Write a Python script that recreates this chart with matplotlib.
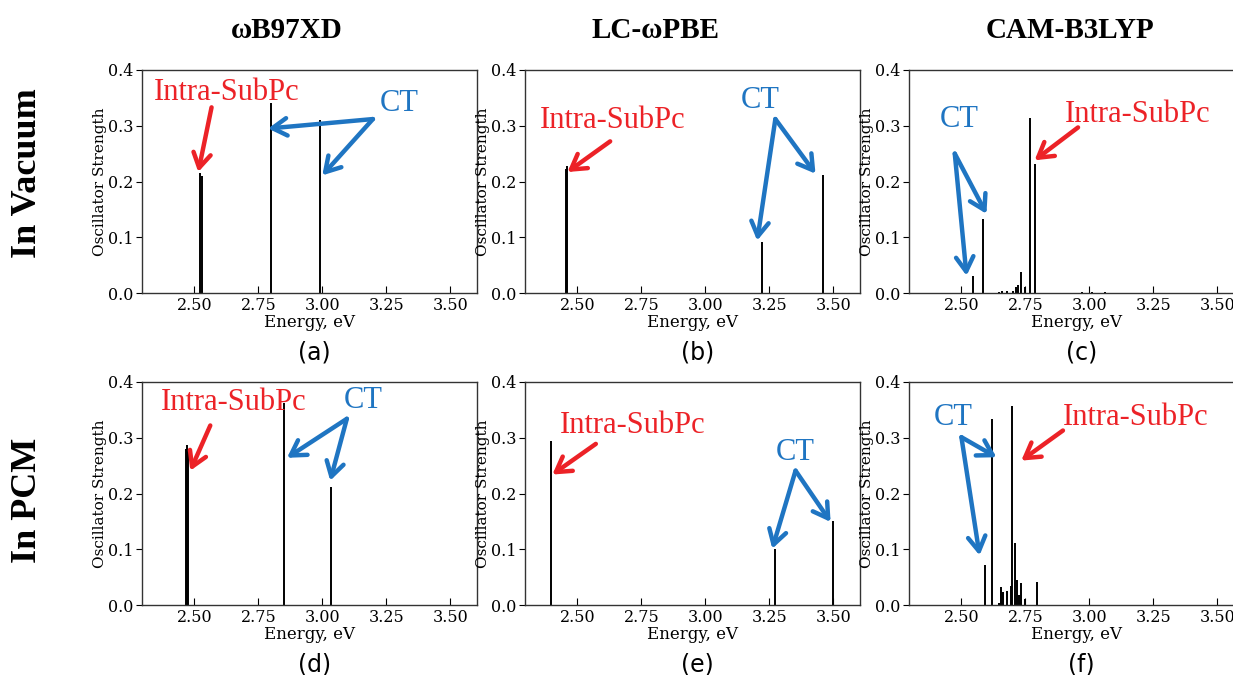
import matplotlib
matplotlib.use("Agg")
import matplotlib.pyplot as plt

# functionals (columns) and solvent models (rows)
functionals = ["ωB97XD", "LC-ωPBE", "CAM-B3LYP"]
environments = ["In Vacuum", "In PCM"]
panel_tags = ["(a)", "(b)", "(c)", "(d)", "(e)", "(f)"]

# excitation energies (eV) and oscillator strengths
a_energy = [2.521, 2.529, 2.800, 2.993]
a_strength = [0.215, 0.210, 0.341, 0.310]

b_energy = [2.456, 2.460, 3.221, 3.461]
b_strength = [0.222, 0.227, 0.091, 0.212]

c_energy = [2.546, 2.585, 2.647, 2.660, 2.680, 2.700, 2.715, 2.721, 2.732,
            2.748, 2.767, 2.786, 2.97, 3.01, 3.06]
c_strength = [0.031, 0.133, 0.002, 0.003, 0.004, 0.003, 0.010, 0.015, 0.037,
              0.010, 0.314, 0.231, 0.001, 0.001, 0.002]

d_energy = [2.466, 2.470, 2.474, 2.849, 3.036]
d_strength = [0.280, 0.287, 0.275, 0.362, 0.211]

e_energy = [2.398, 3.274, 3.500]
e_strength = [0.294, 0.100, 0.151]

f_energy = [2.594, 2.620, 2.647, 2.654, 2.663, 2.680, 2.693, 2.699, 2.708,
            2.718, 2.725, 2.732, 2.750, 2.797]
f_strength = [0.072, 0.334, 0.004, 0.033, 0.023, 0.025, 0.034, 0.357, 0.111,
              0.044, 0.018, 0.039, 0.011, 0.042]

spectra = [(a_energy, a_strength), (b_energy, b_strength), (c_energy, c_strength),
           (d_energy, d_strength), (e_energy, e_strength), (f_energy, f_strength)]

RED = "#ec2227"
BLUE = "#1f75c2"

# label placement per panel: (text, colour, centre, [(tail, tip), ...])
annotations = [
    [("Intra-SubPc", RED, (2.627, 0.360), [((2.567, 0.333), (2.515, 0.217))]),
     ("CT", BLUE, (3.30, 0.340), [((3.198, 0.312), (2.788, 0.295)),
                                  ((3.198, 0.312), (3.000, 0.211))])],
    [("Intra-SubPc", RED, (2.636, 0.309), [((2.628, 0.272), (2.461, 0.217))]),
     ("CT", BLUE, (3.216, 0.345), [((3.274, 0.312), (3.203, 0.094)),
                                   ((3.274, 0.312), (3.431, 0.214))])],
    [("CT", BLUE, (2.493, 0.312), [((2.474, 0.250), (2.520, 0.031)),
                                   ((2.474, 0.250), (2.598, 0.142))]),
     ("Intra-SubPc", RED, (3.19, 0.320), [((2.956, 0.297), (2.786, 0.238))])],
    [("Intra-SubPc", RED, (2.655, 0.364), [((2.562, 0.322), (2.484, 0.241))]),
     ("CT", BLUE, (3.161, 0.367), [((3.096, 0.334), (2.862, 0.264)),
                                   ((3.096, 0.334), (3.031, 0.223))])],
    [("Intra-SubPc", RED, (2.715, 0.322), [((2.572, 0.289), (2.402, 0.234))]),
     ("CT", BLUE, (3.353, 0.274), [((3.353, 0.241), (3.262, 0.101)),
                                   ((3.353, 0.241), (3.490, 0.149))])],
    [("CT", BLUE, (2.468, 0.337), [((2.500, 0.301), (2.571, 0.089)),
                                   ((2.500, 0.301), (2.637, 0.265))]),
     ("Intra-SubPc", RED, (3.18, 0.337), [((2.897, 0.313), (2.734, 0.259))])],
]

W, H = 1233, 675
fig = plt.figure(figsize=(W / 100, H / 100), dpi=100)

col_left = [142, 525, 909]
row_top = [70, 382]
ax_w, ax_h = 335, 223

for i, (energy, strength) in enumerate(spectra):
    r, c = divmod(i, 3)
    ax = fig.add_axes([col_left[c] / W, 1 - (row_top[r] + ax_h) / H, ax_w / W, ax_h / H])
    ax.vlines(energy, 0, strength, color="black", lw=1.4)
    ax.set_xlim(2.295, 3.605)
    ax.set_ylim(0, 0.4)
    ax.set_xticks([2.50, 2.75, 3.00, 3.25, 3.50])
    ax.set_yticks([0.0, 0.1, 0.2, 0.3, 0.4])
    ax.xaxis.set_major_formatter(matplotlib.ticker.FormatStrFormatter("%.2f"))
    ax.yaxis.set_major_formatter(matplotlib.ticker.FormatStrFormatter("%.1f"))
    ax.tick_params(axis="x", direction="in", length=5, pad=3, labelsize=11.5)
    ax.tick_params(axis="y", direction="out", length=4, pad=2, labelsize=11.5)
    for lab in ax.get_xticklabels() + ax.get_yticklabels():
        lab.set_family("DejaVu Serif")
    for sp in ax.spines.values():
        sp.set_color("#333333")
        sp.set_linewidth(1.0)
    ax.set_xlabel("Energy, eV", family="DejaVu Serif", fontsize=12, labelpad=0)
    ax.set_ylabel("Oscillator Strength", family="DejaVu Serif", fontsize=11, labelpad=1)

    for text, color, pos, arrows in annotations[i]:
        ax.text(pos[0], pos[1], text, color=color, family="Liberation Serif",
                fontsize=22, ha="center", va="center")
        for tail, tip in arrows:
            ax.annotate("", xy=tip, xytext=tail,
                        arrowprops=dict(arrowstyle="->, head_length=0.55, head_width=0.33",
                                        color=color, lw=3.2, mutation_scale=19,
                                        shrinkA=0, shrinkB=0))

    ax.text(0.515, -0.265, panel_tags[i], transform=ax.transAxes, ha="center",
            va="center", fontsize=17, family="DejaVu Sans")

# column titles and row labels
for c, name in enumerate(functionals):
    x = [287, 655, 1070][c]
    fig.text(x / W, 1 - 30 / H, name, ha="center", va="center",
             family="Liberation Serif", fontweight="bold", fontsize=21)

for r, name in enumerate(environments):
    y = [173, 500][r]
    fig.text(28 / W, 1 - y / H, name, ha="center", va="center", rotation=90,
             family="Liberation Serif", fontweight="bold", fontsize=26)

fig.savefig("out.png", dpi=100)
